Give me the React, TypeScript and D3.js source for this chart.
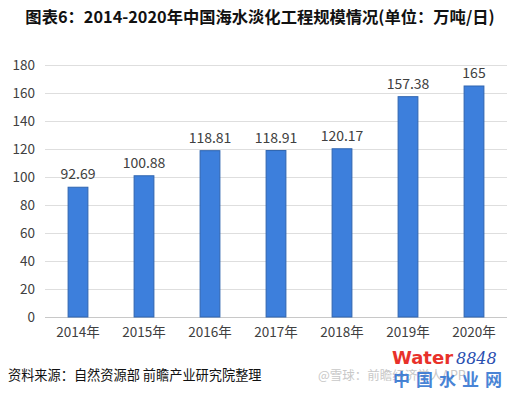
import React, { useRef, useEffect } from "react";
import * as d3 from "d3";

const years = ["2014年", "2015年", "2016年", "2017年", "2018年", "2019年", "2020年"];
const capacity = [92.69, 100.88, 118.81, 118.91, 120.17, 157.38, 165];
const yTicks = [0, 20, 40, 60, 80, 100, 120, 140, 160, 180];

const FONT = "'Microsoft YaHei', 'Noto Sans CJK SC', 'Noto Sans', sans-serif";

const App: React.FC = () => {
  const ref = useRef<SVGSVGElement | null>(null);

  useEffect(() => {
    if (!ref.current) return;
    const svg = d3.select(ref.current);
    svg.selectAll("*").remove();

    const width = 519;
    const height = 396;
    const margin = { top: 65, right: 12, bottom: 79, left: 45 };

    svg.attr("width", width).attr("height", height).style("background", "#fff");

    svg
      .append("text")
      .attr("x", 260)
      .attr("y", 23)
      .attr("text-anchor", "middle")
      .attr("font-family", FONT)
      .attr("font-weight", "bold")
      .attr("font-size", 16.3)
      .attr("fill", "#111")
      .text("图表6：2014-2020年中国海水淡化工程规模情况(单位：万吨/日)");

    const x = d3
      .scaleBand<string>()
      .domain(years)
      .range([margin.left, width - margin.right])
      .paddingInner(0.7)
      .paddingOuter(0.35);

    const y = d3
      .scaleLinear()
      .domain([0, 180])
      .range([height - margin.bottom, margin.top]);

    const grid = svg.append("g");
    grid
      .selectAll("line")
      .data(yTicks)
      .join("line")
      .attr("x1", margin.left)
      .attr("x2", width - margin.right)
      .attr("y1", (d) => y(d) + 0.5)
      .attr("y2", (d) => y(d) + 0.5)
      .attr("stroke", (d) => (d === 0 ? "#c8c8c8" : "#dedede"))
      .attr("stroke-width", 1);

    const yAxis = svg
      .append("g")
      .attr("transform", `translate(${margin.left - 10},0)`)
      .call(d3.axisLeft(y).tickValues(yTicks).tickSize(0).tickPadding(0));
    yAxis.select(".domain").remove();
    yAxis
      .selectAll("text")
      .attr("font-family", FONT)
      .attr("font-size", 13.5)
      .attr("fill", "#404040");

    const xAxis = svg
      .append("g")
      .attr("transform", `translate(0,${height - margin.bottom})`)
      .call(d3.axisBottom(x).tickSize(0).tickPadding(10));
    xAxis.select(".domain").remove();
    xAxis
      .selectAll("text")
      .attr("font-family", FONT)
      .attr("font-size", 13.5)
      .attr("fill", "#404040");

    const bars = svg.append("g");
    bars
      .selectAll("rect")
      .data(capacity)
      .join("rect")
      .attr("x", (_, i) => x(years[i]) || 0)
      .attr("y", (d) => y(d))
      .attr("width", x.bandwidth())
      .attr("height", (d) => y(0) - y(d))
      .attr("fill", "#3d7fdc")
      .attr("stroke", "#2f65b0")
      .attr("stroke-width", 1);

    bars
      .selectAll("text")
      .data(capacity)
      .join("text")
      .attr("x", (_, i) => (x(years[i]) || 0) + x.bandwidth() / 2)
      .attr("y", (d) => y(d) - 8)
      .attr("text-anchor", "middle")
      .attr("font-family", FONT)
      .attr("font-size", 14)
      .attr("fill", "#404040")
      .text((d) => String(d));

    svg
      .append("text")
      .attr("x", 8)
      .attr("y", 380)
      .attr("font-family", FONT)
      .attr("font-size", 13.2)
      .attr("fill", "#111")
      .text("资料来源：自然资源部 前瞻产业研究院整理");

    svg
      .append("text")
      .attr("x", 318)
      .attr("y", 380)
      .attr("font-family", FONT)
      .attr("font-size", 12.5)
      .attr("fill", "#c8c8c8")
      .text("@雪球：前瞻经济学人APP");

    svg
      .append("text")
      .attr("x", 392)
      .attr("y", 364)
      .attr("font-family", "'DejaVu Sans', sans-serif")
      .attr("font-weight", "bold")
      .attr("font-size", 18)
      .attr("fill", "#e8312a")
      .text("Water");

    svg
      .append("text")
      .attr("x", 456)
      .attr("y", 364)
      .attr("font-family", "'DejaVu Serif', serif")
      .attr("font-style", "italic")
      .attr("font-size", 16)
      .attr("fill", "#2a4fb0")
      .text("8848");

    svg
      .append("text")
      .attr("x", 393)
      .attr("y", 386)
      .attr("font-family", FONT)
      .attr("font-weight", "bold")
      .attr("font-size", 17)
      .attr("fill", "#2a6fd0")
      .attr("opacity", 0.85)
      .attr("letter-spacing", 6)
      .text("中国水业网");
  }, []);

  return (
    <div style={{ width: 519, height: 396, margin: -8 }}>
      <svg ref={ref} style={{ display: "block" }} />
    </div>
  );
};

export default App;
